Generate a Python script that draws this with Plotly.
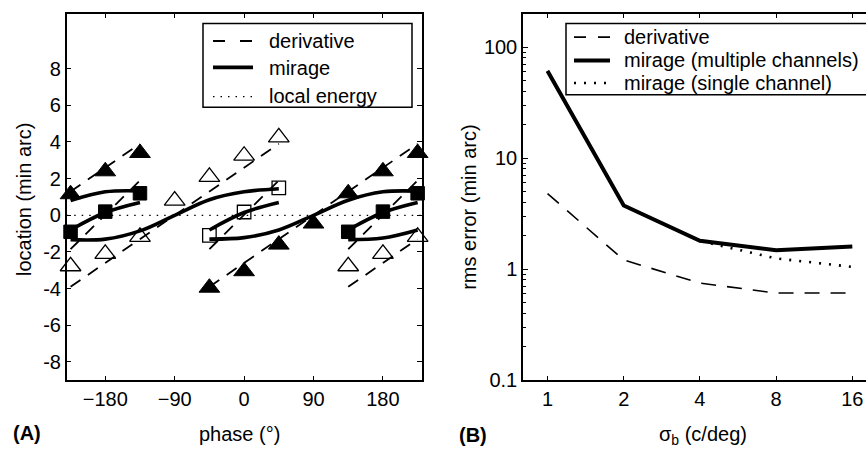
import math
import plotly.graph_objects as go

# ---------------- Panel A data ----------------
tick_phase = [-180, -90, 0, 90, 180]
tick_phase_text = ["\u2212180", "\u221290", "0", "90", "180"]
tick_loc = [-8, -6, -4, -2, 0, 2, 4, 6, 8]
tick_loc_text = ["-8", "-6", "-4", "-2", "0", "2", "4", "6", "8"]

# derivative predictions (dashed)
deriv1_x = [-225, 45]
deriv1_y = [-3.9, 3.9]
deriv2_x = [-45, 225]
deriv2_y = [-3.9, 3.9]
deriv3_x = [-225, -135]
deriv3_y = [1.3, 3.9]
deriv4_x = [135, 225]
deriv4_y = [-3.9, -1.3]
derivm_left_x = [-225, -135]
derivm_center_x = [-45, 45]
derivm_right_x = [135, 225]
derivm_y = [-1.85, 1.9]

# mirage predictions (thick solid)
mirS1_x = [-225, -180, -135, -90, -45, 0, 45]
mirS1_y = [-1.33, -1.3, -0.85, 0.0, 0.85, 1.28, 1.45]
mirS2_x = [-45, 0, 45, 90, 135, 180, 225]
mirS2_y = [-1.3, -1.22, -0.8, 0.0, 0.82, 1.28, 1.32]
mirTop_x = [-225, -180, -135]
mirTop_y = [0.8, 1.28, 1.33]
mirBot_x = [135, 180, 225]
mirBot_y = [-1.33, -1.24, -0.8]
mirMid_left_x = [-225, -180, -135]
mirMid_center_x = [-45, 0, 45]
mirMid_right_x = [135, 180, 225]
mirMid_y = [-0.8, 0.15, 0.7]

# local energy (dotted)
energy_x = [-230, 230]
energy_y = [0, 0]

# data points
ftri_x = [-225, -180, -135, -45, 0, 45, 90, 135, 180, 225]
ftri_y = [1.15, 2.4, 3.4, -3.95, -3.05, -1.6, -0.45, 1.2, 2.4, 3.4]
otri_x = [-225, -180, -135, -90, -45, 0, 45, 135, 180, 225]
otri_y = [-2.78, -2.1, -1.18, 0.8, 2.1, 3.25, 4.25, -2.78, -2.1, -1.18]
fsq_x = [-225, -180, -135, 135, 180, 225]
fsq_y = [-0.9, 0.2, 1.2, -0.9, 0.2, 1.2]
osq_x = [-45, 0, 45]
osq_y = [-1.1, 0.18, 1.5]

# ---------------- Panel B data ----------------
sigma_b = [1, 2, 4, 8, 16]
rms_derivative = [4.8, 1.21, 0.75, 0.61, 0.61]
rms_mirage_multi = [61.0, 3.75, 1.8, 1.48, 1.6]
rms_mirage_single = [61.0, 3.75, 1.8, 1.25, 1.05]
tick_sigma_text = ["1", "2", "4", "8", "16"]
tick_rms = [0.1, 1, 10, 100]
tick_rms_text = ["0.1", "1", "10", "100"]
minor_rms = [0.2, 0.3, 0.4, 0.5, 0.6, 0.7, 0.8, 0.9, 2, 3, 4, 5, 6, 7, 8, 9,
             20, 30, 40, 50, 60, 70, 80, 90, 200]

W, H = 866, 454
FONT = "Liberation Sans, Arial, Helvetica, sans-serif"
FS = 20

def px(x):
    return x / W

def py(y):
    return 1 - y / H

DASH_A = "12px,9px"
DASH_B = "15px,11px"
DOT_A = "1.5px,6px"
DOT_B = "2px,8px"

fig = go.Figure()

def line(x, y, dash="solid", width=1.5, xa="x", ya="y", shape="linear"):
    fig.add_trace(go.Scatter(x=x, y=y, mode="lines", xaxis=xa, yaxis=ya,
                             line=dict(color="black", width=width, dash=dash, shape=shape),
                             showlegend=False, hoverinfo="skip"))

# local energy
line(energy_x, energy_y, dash=DOT_A, width=1.3)
# derivative
for xs, ys in [(deriv1_x, deriv1_y), (deriv2_x, deriv2_y), (deriv3_x, deriv3_y), (deriv4_x, deriv4_y),
               (derivm_left_x, derivm_y), (derivm_center_x, derivm_y), (derivm_right_x, derivm_y)]:
    line(xs, ys, dash=DASH_A, width=1.8)
# mirage
for xs, ys in [(mirS1_x, mirS1_y), (mirS2_x, mirS2_y), (mirTop_x, mirTop_y), (mirBot_x, mirBot_y),
               (mirMid_left_x, mirMid_y), (mirMid_center_x, mirMid_y), (mirMid_right_x, mirMid_y)]:
    line(xs, ys, width=3.6, shape="spline")

def markers(x, y, symbol, size, lw):
    fig.add_trace(go.Scatter(x=x, y=y, mode="markers", cliponaxis=False,
                             marker=dict(symbol=symbol, size=size, color="black",
                                         line=dict(color="black", width=lw)),
                             showlegend=False, hoverinfo="skip"))

markers(ftri_x, ftri_y, "triangle-up", 18, 1)
markers(otri_x, otri_y, "triangle-up-open", 18, 1.3)
markers(fsq_x, fsq_y, "square", 13.5, 1)
markers(osq_x, osq_y, "square-open", 13.5, 1.3)

# Panel B
line(sigma_b, rms_mirage_single, dash=DOT_B, width=2.6, xa="x2", ya="y2")
line(sigma_b, rms_derivative, dash=DASH_B, width=1.6, xa="x2", ya="y2")
line(sigma_b, rms_mirage_multi, width=4, xa="x2", ya="y2")

axis_common = dict(showline=True, linecolor="black", linewidth=1.5, ticks="inside",
                   ticklen=5, tickwidth=1, tickcolor="black", showgrid=False, zeroline=False,
                   tickfont=dict(family=FONT, size=FS, color="black"))

fig.update_layout(
    width=W, height=H, margin=dict(l=0, r=0, t=0, b=0),
    paper_bgcolor="white", plot_bgcolor="white", showlegend=False,
    font=dict(family=FONT, size=FS, color="black"),
    xaxis=dict(domain=[px(66.7), px(421.5)], range=[-230, 230], tickvals=tick_phase,
               ticktext=tick_phase_text, mirror="ticks", anchor="y", **axis_common),
    yaxis=dict(domain=[py(389.7), py(14)], range=[-9, 11], tickvals=tick_loc,
               ticktext=tick_loc_text, mirror="ticks", anchor="x", **axis_common),
    xaxis2=dict(domain=[px(523), 1.0], type="log",
                range=[math.log10(0.8), math.log10(18.12)], tickvals=sigma_b,
                ticktext=tick_sigma_text, mirror="ticks", anchor="y2", **axis_common),
    yaxis2=dict(domain=[py(389.7), py(14)], type="log", range=[-1, math.log10(200)],
                tickvals=tick_rms, ticktext=tick_rms_text, mirror=False, anchor="x2",
                minor=dict(ticks="inside", ticklen=3, tickcolor="black", tickvals=minor_rms),
                **axis_common),
)

shapes = []
annotations = []

def ann(x, y, text, xanchor="center", yanchor="middle", angle=0):
    annotations.append(dict(x=px(x), y=py(y), xref="paper", yref="paper", text=text,
                            showarrow=False, xanchor=xanchor, yanchor=yanchor, textangle=angle,
                            font=dict(family=FONT, size=FS, color="black")))

def seg(x0, y0, x1, y1, width, dash="solid"):
    shapes.append(dict(type="line", xref="paper", yref="paper", x0=px(x0), y0=py(y0),
                       x1=px(x1), y1=py(y1), line=dict(color="black", width=width, dash=dash)))

# Legend A
shapes.append(dict(type="rect", xref="paper", yref="paper", x0=px(203), y0=py(110), x1=px(412),
                   y1=py(24), line=dict(color="black", width=1.5), fillcolor="white", layer="above"))
seg(213, 42, 253, 42, 1.8, "12px,15px")
seg(213, 69, 253, 69, 3.6)
seg(213, 99, 253, 99, 1.3, DOT_A)
ann(267, 42, "derivative", xanchor="left")
ann(267, 70, "mirage", xanchor="left")
ann(267, 98, "local energy", xanchor="left")

# Legend B
shapes.append(dict(type="rect", xref="paper", yref="paper", x0=px(566), y0=py(97), x1=px(880),
                   y1=py(24), line=dict(color="black", width=1.5), fillcolor="white", layer="above"))
seg(574, 38, 610, 38, 1.6, "12px,12px")
seg(574, 62, 610, 62, 4)
seg(574, 85, 610, 85, 2.6, DOT_B)
ann(622, 38, "derivative", xanchor="left")
ann(622, 62, "mirage (multiple channels)", xanchor="left")
ann(622, 85, "mirage (single channel)", xanchor="left")

# Axis titles and panel labels
ann(240, 445, "phase (\u00b0)")
ann(24, 205, "location (min arc)", angle=-90)
ann(469, 212, "rms error (min arc)", angle=-90)
ann(703, 446, "\u03c3<sub>b</sub> (c/deg)")
ann(11, 444, "<b>(A)</b>", xanchor="left")
ann(457, 446, "<b>(B)</b>", xanchor="left")

fig.update_layout(shapes=shapes, annotations=annotations)
fig.write_html("out.html", config={"displayModeBar": False},
               post_script="document.body.style.margin='0';document.body.style.overflow='hidden';")
